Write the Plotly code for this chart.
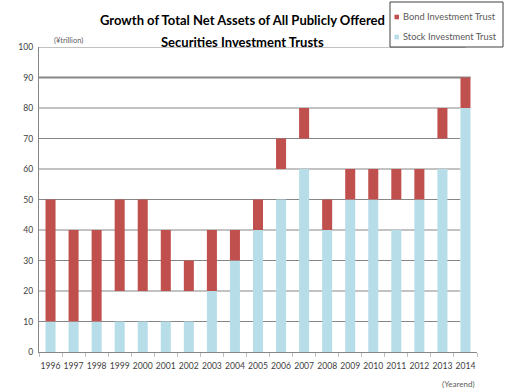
import plotly.graph_objects as go

# Net assets (trillion yen) by year-end
years = [str(y) for y in range(1996, 2015)]
stock_top = [10, 10, 10, 10, 10, 10, 10, 20, 30, 40, 50, 60, 40, 50, 50, 40, 50, 60, 80]
bond_bottom = [10, 10, 10, 20, 20, 20, 20, 20, 30, 40, 60, 70, 40, 50, 50, 50, 50, 70, 80]
bond_top = [50, 40, 40, 50, 50, 40, 30, 40, 40, 50, 70, 80, 50, 60, 60, 60, 60, 80, 90]
y_ticks = [0, 10, 20, 30, 40, 50, 60, 70, 80, 90, 100]
series_names = ["Bond Investment Trust", "Stock Investment Trust"]

RED = "#C0504D"
BLUE = "#B7DEE8"
GRID = "#868686"
TXT = "#404040"
FONT = "Lato"

W, H = 505, 392
ML, MR, MT, MB = 39, 28, 47, 40
PW, PH = W - ML - MR, H - MT - MB


def px(xp):
    """pixel x -> paper x"""
    return (xp - ML) / PW


def py(yp):
    """pixel y -> paper y"""
    return (H - MB - yp) / PH


fig = go.Figure()

fig.add_trace(go.Bar(
    x=years, y=stock_top, base=[0] * len(years),
    marker=dict(color=BLUE, line=dict(width=0)),
    name=series_names[1], showlegend=False, hoverinfo="skip",
))
fig.add_trace(go.Bar(
    x=years, y=[t - b for t, b in zip(bond_top, bond_bottom)], base=bond_bottom,
    marker=dict(color=RED, line=dict(width=0)),
    name=series_names[0], showlegend=False, hoverinfo="skip",
))

# horizontal gridlines behind the bars
shapes = []
for v in y_ticks[1:]:
    if v == 90:
        x1, w = 18.22, 2
    elif v == 100:
        x1, w = 18.0, 1
    else:
        x1, w = 17.78, 1
    shapes.append(dict(type="line", xref="x", yref="y", x0=-0.5, x1=x1, y0=v, y1=v,
                       line=dict(color=GRID, width=w), layer="below"))

# legend box with small square keys
shapes.append(dict(type="rect", xref="paper", yref="paper",
                   x0=px(390), x1=px(503), y0=py(47), y1=py(2),
                   fillcolor="white", line=dict(color="#404040", width=1), layer="above"))
annotations = []
for name, color, yc in [(series_names[0], RED, 17), (series_names[1], BLUE, 37)]:
    shapes.append(dict(type="rect", xref="paper", yref="paper",
                       x0=px(394.5), x1=px(399), y0=py(yc + 2.3), y1=py(yc - 2.3),
                       fillcolor=color, line=dict(width=0), layer="above"))
    annotations.append(dict(text=name, x=px(400.5), y=py(yc), xref="paper", yref="paper",
                            xanchor="left", yanchor="middle", showarrow=False,
                            font=dict(family=FONT, size=9.3, color="#595959")))

annotations += [
    dict(text="Growth of Total Net Assets of All Publicly Offered", x=px(242), y=py(20),
         xref="paper", yref="paper", showarrow=False, yanchor="middle",
         font=dict(family=FONT, size=13, color="#000000", weight="bold")),
    dict(text="Securities Investment Trusts", x=px(242), y=py(42),
         xref="paper", yref="paper", showarrow=False, yanchor="middle",
         font=dict(family=FONT, size=13, color="#000000", weight="bold")),
    dict(text="(¥trillion)", x=px(52), y=py(40), xref="paper", yref="paper",
         showarrow=False, yanchor="middle",
         font=dict(family=FONT, size=7.5, color="#606060")),
    dict(text="(Yearend)", x=px(477), y=py(384), xref="paper", yref="paper",
         showarrow=False, yanchor="middle",
         font=dict(family=FONT, size=8, color="#606060")),
]

fig.update_layout(
    width=W, height=H,
    margin=dict(l=ML, r=MR, t=MT, b=MB, autoexpand=False),
    paper_bgcolor="white", plot_bgcolor="white",
    barmode="overlay", bargap=0.565,
    shapes=shapes, annotations=annotations,
    font=dict(family=FONT, color=TXT),
    showlegend=False,
    xaxis=dict(
        type="category", range=[-0.5, 18.5],
        showline=True, linecolor=GRID, linewidth=1,
        ticks="outside", tickson="boundaries", ticklen=4, tickcolor="#BFBFBF",
        tickangle=0, showgrid=False, ticklabelstandoff=6,
        tickfont=dict(family=FONT, size=8.6, color=TXT),
    ),
    yaxis=dict(
        range=[0, 100], tickvals=y_ticks,
        showline=True, linecolor=GRID, linewidth=1,
        showgrid=False, zeroline=False, ticks="", ticklabelstandoff=3,
        tickfont=dict(family=FONT, size=8.6, color=TXT),
    ),
)

fig.write_html("out.html")
